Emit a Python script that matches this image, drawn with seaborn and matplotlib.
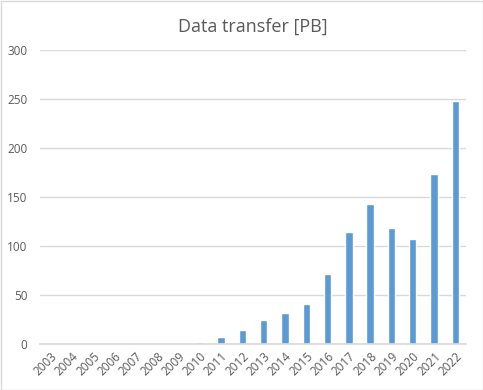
import matplotlib
matplotlib.use("Agg")
import matplotlib.pyplot as plt
import seaborn as sns
import pandas as pd

years = [str(y) for y in range(2003, 2023)]
values = [0, 0, 0, 0, 0, 0, 0, 1.6, 7.1, 14.3, 24.5, 31.6, 40.8, 71.4, 114, 143, 118.4, 107.1, 173.5, 248]
yticks = [0, 50, 100, 150, 200, 250, 300]

sns.set_theme(style="white")
plt.rcParams['font.family'] = ['Open Sans', 'DejaVu Sans']

df = pd.DataFrame({"year": years, "value": values})

fig = plt.figure(figsize=(4.83, 3.90), dpi=100)
ax = fig.add_axes([40/483, 1-344/390, 426/483, 294/390])
sns.barplot(data=df, x="year", y="value", color="#5B9BD5", width=0.35, ax=ax, saturation=1)

ax.set_ylim(0, 300)
ax.set_yticks(yticks)
ax.set_xlim(-0.5, len(years)-0.5)
ax.grid(axis="y", color="#D9D9D9", linewidth=1)
ax.set_axisbelow(True)
for s in ["top", "right", "left"]:
    ax.spines[s].set_visible(False)
ax.spines["bottom"].set_color("#D9D9D9")
ax.tick_params(axis="both", length=0, colors="#595959", labelsize=8.5)
ax.tick_params(axis="y", pad=9)
ax.tick_params(axis="x", pad=4)
plt.setp(ax.get_xticklabels(), rotation=45, ha="right", rotation_mode="anchor")
ax.set_xlabel("")
ax.set_ylabel("")
ax.set_title("Data transfer [PB]", color="#595959", fontsize=13, pad=13)

fig.patches.append(plt.Rectangle((0.5/483, 0.5/390), 1-1/483, 1-1/390, transform=fig.transFigure,
                                 fill=False, edgecolor="#D9D9D9", linewidth=1))
fig.savefig("out.png", dpi=100)
